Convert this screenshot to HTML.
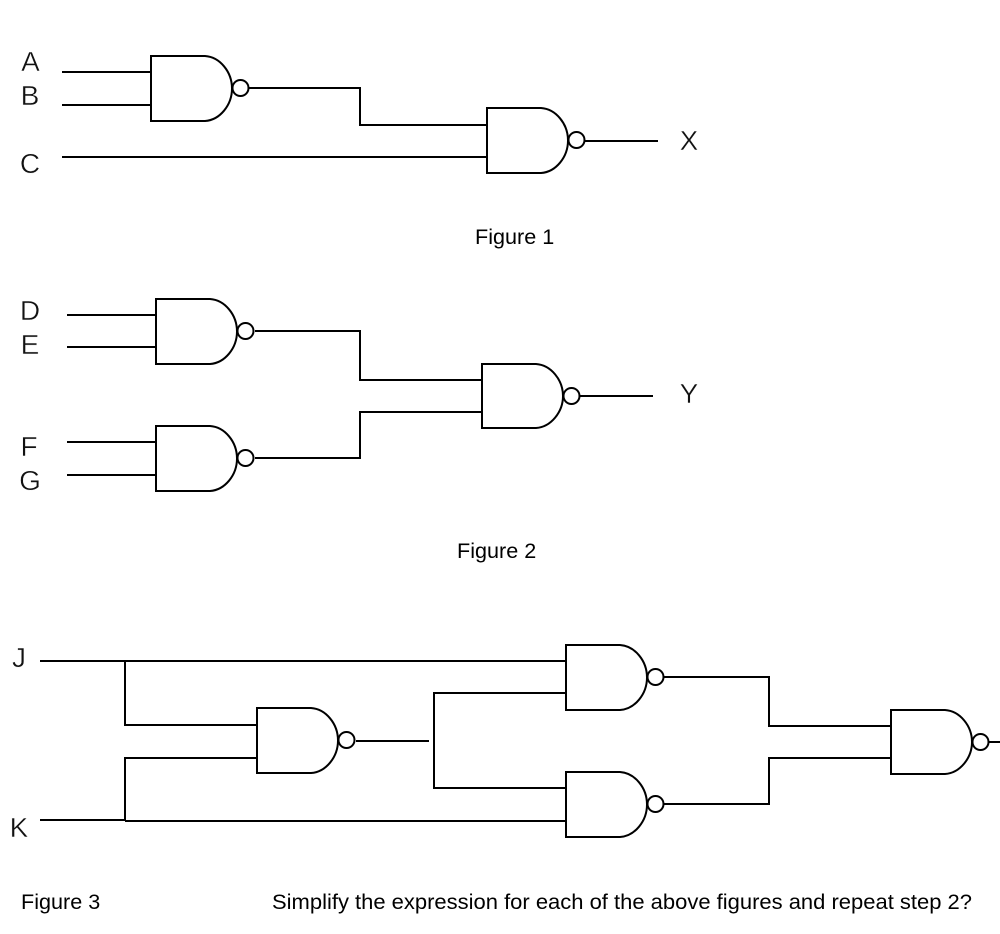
<!DOCTYPE html>
<html>
<head>
<meta charset="utf-8">
<style>
html,body{margin:0;padding:0;background:#fff;width:1000px;height:934px;overflow:hidden}
svg{display:block}
.w{fill:none;stroke:#000;stroke-width:2;shape-rendering:crispEdges}
.g{fill:none;stroke:#000;stroke-width:2}
.l{font-family:"Liberation Sans",sans-serif;font-size:28px;fill:#111;stroke:#fff;stroke-width:.4px;text-anchor:middle}
.t{font-family:"Liberation Sans",sans-serif;font-size:21.6px;fill:#000}
</style>
</head>
<body>
<svg width="1000" height="934" viewBox="0 0 1000 934" xmlns="http://www.w3.org/2000/svg">
<defs>
<g id="nand">
<path class="g" d="M0 0H54C69 1 81 16 81 32.5C81 49 69 64 54 65H0Z"/>
<circle class="g" cx="89.5" cy="32" r="8"/>
</g>
<g id="nand64">
<path class="g" d="M0 0H54C69 1 81 16 81 32C81 48 69 63 54 64H0Z"/>
<circle class="g" cx="89.5" cy="32" r="8"/>
</g>
</defs>

<!-- Figure 1 -->
<use href="#nand" x="151" y="56"/>
<use href="#nand" x="487" y="108"/>
<path class="w" d="M62 72H151M62 105H151M62 157H487M249 88H360V125H487M585 141H658"/>

<!-- Figure 2 -->
<use href="#nand" x="156" y="299"/>
<use href="#nand" x="156" y="426"/>
<use href="#nand64" x="482" y="364"/>
<path class="w" d="M67 315H156M67 347H156M67 442H156M67 475H156M255 331H360V380H482M255 458H360V412H482M580 396H653"/>

<!-- Figure 3 -->
<use href="#nand" x="257" y="708"/>
<use href="#nand" x="566" y="645"/>
<use href="#nand" x="566" y="772"/>
<use href="#nand64" x="891" y="710"/>
<path class="w" d="M40 661H566M125 661V725H257M40 820H125M125 821H566M125 821V758H257M356 741H429M566 693H434V788H566M664 677H769V726H891M664 804H769V758H891M989 742H1000"/>

<!-- Labels -->
<text class="l" x="30.5" y="71">A</text>
<text class="l" x="30" y="105">B</text>
<text class="l" x="30" y="173">C</text>
<text class="l" x="689" y="150">X</text>
<text class="l" x="30" y="320">D</text>
<text class="l" x="30" y="354">E</text>
<text class="l" x="29" y="456">F</text>
<text class="l" x="30" y="490">G</text>
<text class="l" x="689" y="403">Y</text>
<text class="l" x="19" y="667">J</text>
<text class="l" x="19" y="837">K</text>

<text class="t" x="475" y="244">Figure 1</text>
<text class="t" x="457" y="558">Figure 2</text>
<text class="t" x="21" y="909">Figure 3</text>
<text class="t" x="272" y="909" textLength="700" lengthAdjust="spacingAndGlyphs">Simplify the expression for each of the above figures and repeat step 2?</text>
</svg>
</body>
</html>
